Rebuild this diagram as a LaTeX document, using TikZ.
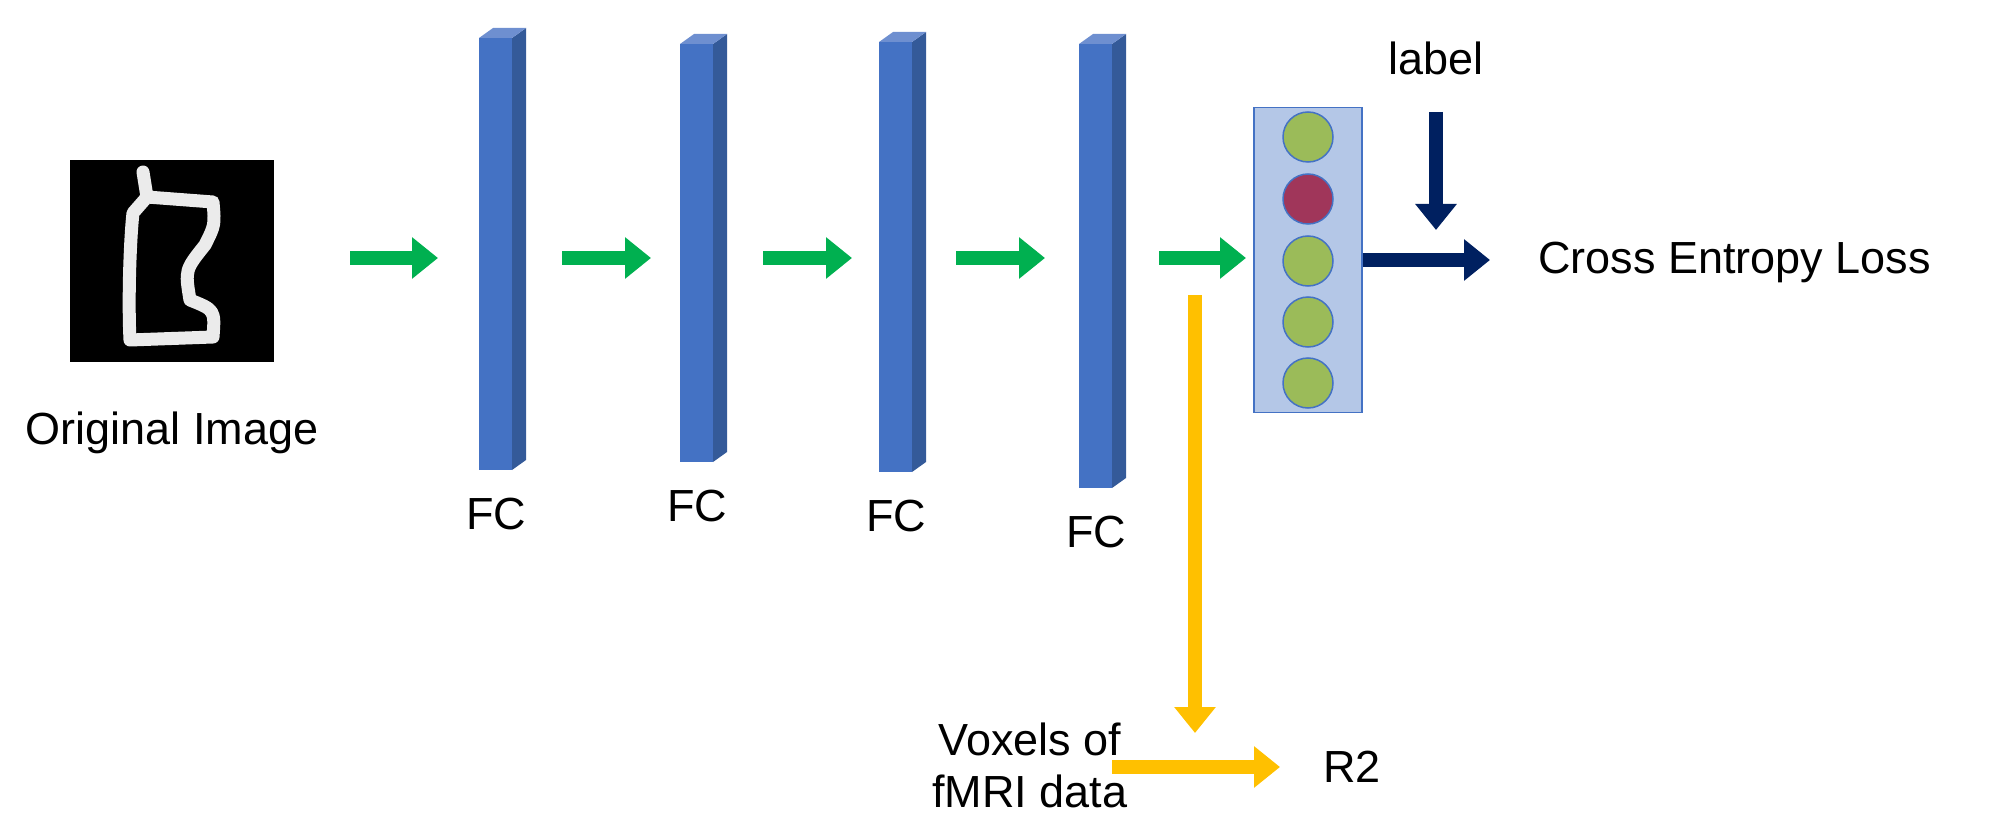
\documentclass[tikz,border=0pt]{standalone}
\usepackage{fontspec}
\setmainfont{Liberation Sans}
\usetikzlibrary{arrows.meta}
\definecolor{barF}{HTML}{4472C4}
\definecolor{barS}{HTML}{345A99}
\definecolor{barT}{HTML}{6E8FD0}
\definecolor{grn}{HTML}{00B050}
\definecolor{navy}{HTML}{002060}
\definecolor{ylw}{HTML}{FFC000}
\definecolor{boxF}{HTML}{B4C7E7}
\definecolor{cG}{HTML}{9BBB59}
\definecolor{cR}{HTML}{A0365A}
\begin{document}
\begin{tikzpicture}[x=1pt,y=-1pt,
  txt/.style={font=\fontsize{45}{52}\selectfont, inner sep=0},
  fat/.style={line width=14pt,-{Triangle[length=26pt,width=40pt]}},
  ga/.style={fat,grn}]
\useasboundingbox (0,0) rectangle (1989,837);
% image
\node[fill=black,minimum width=204pt,minimum height=202pt,inner sep=0] (img) at (172,261) {};
\draw[white,line width=13pt,line join=round,line cap=round,opacity=0.92]
  (143,172) -- (147,197) -- (213,202) .. controls (215,225) .. (205,245) .. controls (185,270) .. (190,300) .. controls (215,310) .. (213,337) -- (130,340) .. controls (128,300) and (130,240) .. (133,213) -- (147,197);
\node[txt,anchor=north] (orig) at (172,412) {Original Image};
% FC bars
\foreach \i/\x/\t/\b in {1/496/38/470,2/697/44/462,3/896/42/472,4/1096/44/488}{
  \fill[barF] (\x-17,\t) rectangle (\x+16,\b);
  \fill[barS] (\x+16,\t) -- (\x+30,\t-10) -- (\x+30,\b-10) -- (\x+16,\b) -- cycle;
  \fill[barT] (\x-17,\t) -- (\x-3,\t-10) -- (\x+30,\t-10) -- (\x+16,\t) -- cycle;
  \coordinate (bar\i) at (\x,\t);
  \node[txt,anchor=north] (fc\i) at (\x,\b+28) {FC};
}
% green arrows
\foreach \a/\b in {350/438,562/651,763/852,956/1045,1159/1246}{
  \coordinate (s\a) at (\a,258); \coordinate (e\a) at (\b,258);
  \draw[ga] (s\a) -- (e\a);
}
% output box
\node[draw=barF,line width=1.5pt,fill=boxF,minimum width=108pt,minimum height=305pt,inner sep=0] (out) at (1308,260) {};
\foreach \y/\c [count=\k] in {137/cG,199/cR,261/cG,322/cG,383/cG}{
  \node[circle,draw=barF,line width=1.5pt,fill=\c,minimum size=50pt,inner sep=0] (c\k) at (1308,\y) {};
}
% navy
\node[txt] (label) at (1436,58) {label};
\coordinate (lt) at (1436,112); \coordinate (lb) at (1436,230);
\draw[fat,navy] (lt) -- (lb);
\node[txt,anchor=west] (cel) at (1538,262) {Cross Entropy Loss};
\coordinate (ne) at (1490,260);
\draw[fat,navy] (out.east) -- (ne);
% yellow
\coordinate (yt) at (1195,295); \coordinate (yb) at (1195,733);
\draw[fat,ylw] (yt) -- (yb);
\node[txt,align=center] (vox) at (1030,765) {Voxels of\\fMRI data};
\node[txt,anchor=west] (r2) at (1323,767) {R2};
\coordinate (vl) at (1112,767); \coordinate (vr) at (1280,767);
\draw[fat,ylw] (vl) -- (vr);
\end{tikzpicture}
\end{document}
